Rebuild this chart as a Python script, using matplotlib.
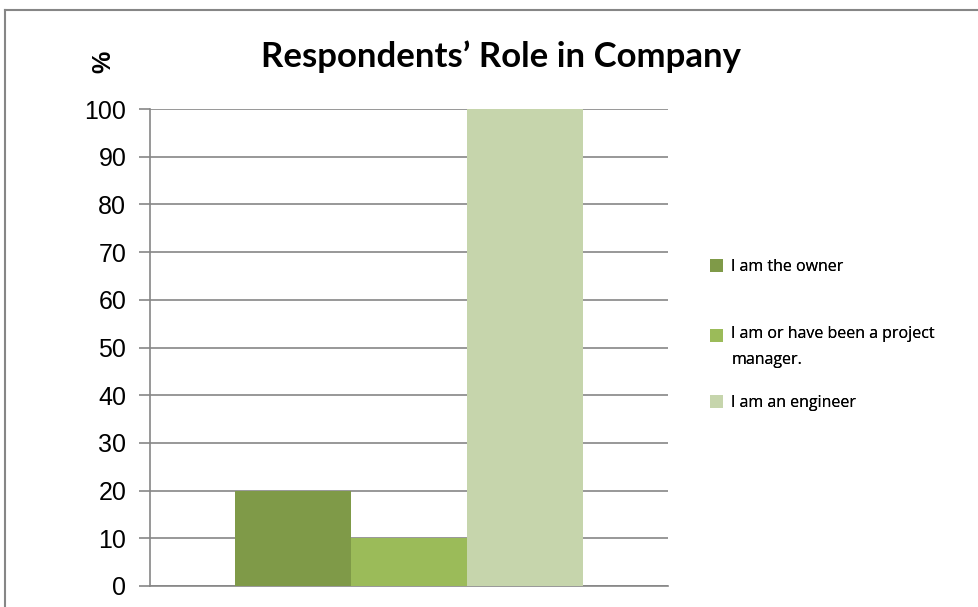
import numpy as np
import matplotlib.pyplot as plt
from matplotlib.lines import Line2D

# Dados
roles = ['I am the owner', 'I am or have been a project\nmanager.', 'I am an engineer']
percent = [20, 10, 100]
colors = ['#7f9a48', '#9bbb59', '#c6d5ac']
yticks = np.arange(0, 101, 10)

fig = plt.figure(figsize=(9.79, 6.07), dpi=100)
ax = fig.add_axes([0.1532, 0.0346, 0.5291, 0.7858])

offsets = np.arange(len(percent)) - 1
bars = []
for off, val, lab, col in zip(offsets, percent, roles, colors):
    b = ax.bar(off, val, width=1.0, color=col, label=lab, zorder=3)
    bars.append(b)

ax.set_xlim(-2.233, 2.233)
ax.set_ylim(0, 100)
ax.set_yticks(yticks)
ax.set_xticks([])
ax.yaxis.grid(True, color='#868686', linewidth=1.2, zorder=0)
for s in ['top', 'right']:
    ax.spines[s].set_visible(False)
for s in ['left', 'bottom']:
    ax.spines[s].set_color('#868686')
    ax.spines[s].set_linewidth(1.2)
ax.tick_params(axis='y', length=8, width=1.2, color='#868686', pad=9,
               labelsize=18)
for t in ax.get_yticklabels():
    t.set_fontfamily('Liberation Sans')

# Titulo e rotulo do eixo
fig.text(0.512, 0.906, 'Respondents\u2019 Role in Company', ha='center', va='center',
         fontsize=25, fontweight='bold', family='Lato')
fig.text(0.106, 0.898, '%', rotation=90, ha='center', va='center',
         fontsize=18, fontweight='bold', family='Liberation Sans')

# Legenda (uma entrada por vez, para controlar as posicoes)
leg_y = [267, 347, 403]
for b, lab, y in zip(bars, roles, leg_y):
    leg = fig.legend([b], [lab], loc='center left',
                     bbox_to_anchor=(710 / 979, 1 - y / 607), frameon=False,
                     prop={'family': 'Open Sans', 'size': 11.5}, handlelength=0.79,
                     handleheight=0.79, handletextpad=0.55, borderpad=0,
                     borderaxespad=0)
    if '\n' in lab:
        leg.get_texts()[0].set_linespacing(1.75)
        # quadrado alinhado com a primeira linha
        h = leg.legend_handles[0]
        h.set_y(h.get_y() + 8.6)
    fig.add_artist(leg)

# Moldura do grafico
fig.add_artist(Line2D([0.0051, 1.0], [0.9835, 0.9835], color='#868686', lw=1.5))
fig.add_artist(Line2D([0.0051, 0.0051], [0.0, 0.9835], color='#868686', lw=1.5))

plt.savefig('out.png', dpi=100)
